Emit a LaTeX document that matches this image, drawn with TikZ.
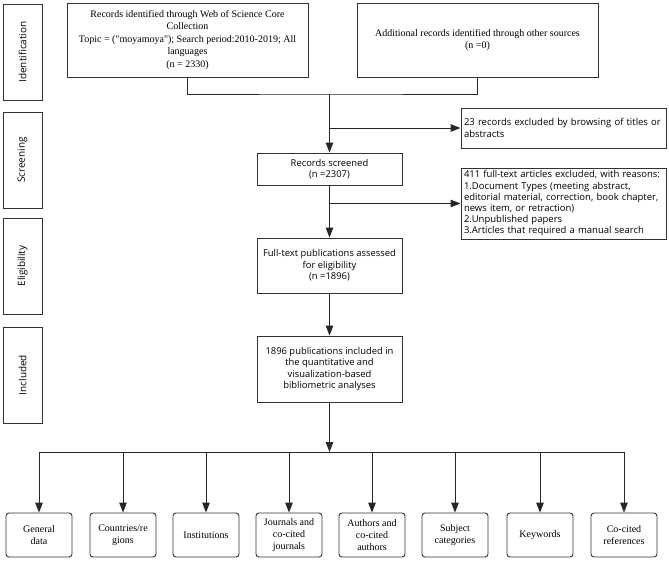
\documentclass[tikz,border=0pt]{standalone}
\usepackage{fontspec}
\setmainfont{Liberation Serif}[Ligatures=TeXOff]
\newfontfamily\uisans{Open Sans}
\usetikzlibrary{arrows.meta}
\begin{document}
\begin{tikzpicture}[x=1pt,y=-1pt,
  box/.style={draw=black!80, line width=0.9pt, inner sep=0pt, align=center},
  serifbox/.style={box, minimum width=241pt, minimum height=74pt, font=\fontsize{10}{12.5}\selectfont},
  midbox/.style={box, minimum width=145pt, font=\uisans\fontsize{9.4}{11.4}\selectfont},
  exbox/.style={box, text width=199pt, inner xsep=3pt, align=left, font=\uisans\fontsize{9.5}{11.2}\selectfont, execute at begin node={\hyphenpenalty=10000\relax}},
  sidebox/.style={box, rotate=90, minimum width=96pt, minimum height=39pt, font=\uisans\fontsize{10}{12}\selectfont},
  leafbox/.style={box, rounded corners=3pt, minimum width=66pt, minimum height=44pt, font=\fontsize{10}{12.3}\selectfont},
  arr/.style={-{Triangle[length=10pt,width=7.5pt]}, line width=1pt, draw=black!85},
  conn/.style={line width=1pt, draw=black!85}
]
\useasboundingbox (0,0) rectangle (669,560);

% phase labels
\node[sidebox] (sid) at (22.5,52) {Identification};
\node[sidebox] (sis) at (22.5,160) {Screening};
\node[sidebox] (sie) at (22.5,266) {Eligibility};
\node[sidebox] (sii) at (22.5,375) {Included};

% top boxes
\node[serifbox] (boxA) at (187.5,40) {Records identified through Web of Science Core\\Collection\\Topic = ("moyamoya"); Search period:2010-2019; All\\languages\\(n = 2330)};
\node[serifbox] (boxB) at (477.5,40) {Additional records identified through other sources\\(n =0)};

% main flow
\node[midbox, minimum height=32pt] (screened) at (329.5,169) {Records screened\\(n =2307)};
\node[midbox, minimum height=55pt] (fulltext) at (329.5,265.5) {Full-text publications assessed\\for eligibility\\(n =1896)};
\node[midbox, minimum height=66pt] (included) at (329.5,369) {1896 publications included in\\the quantitative and\\visualization-based\\bibliometric analyses};

% exclusion boxes
\node[exbox, minimum height=40pt] (ex1) at (563.5,128) {23 records excluded by browsing of titles or\\abstracts};
\node[exbox, minimum height=71pt] (ex2) at (563.5,203.5) {411 full-text articles excluded, with reasons:\\1.Document Types (meeting abstract,\\editorial material, correction, book chapter,\\news item, or retraction)\\2.Unpublished papers\\3.Articles that required a manual search};

% leaf boxes
\node[leafbox] (l1) at (39,535) {General\\data};
\node[leafbox] (l2) at (123,535) {Countries/re\\gions};
\node[leafbox] (l3) at (206,535) {Institutions};
\node[leafbox] (l4) at (289,535) {Journals and\\co-cited\\journals};
\node[leafbox] (l5) at (372,535) {Authors and\\co-cited\\authors};
\node[leafbox] (l6) at (455,535) {Subject\\categories};
\node[leafbox] (l7) at (540,535) {Keywords};
\node[leafbox] (l8) at (624,535) {Co-cited\\references};

% connectors
\coordinate (jm) at (329.5,94);
\coordinate (b1) at (329.5,128);
\coordinate (b2) at (329.5,203.5);
\coordinate (bar) at (329.5,452);
\draw[conn] (boxA.south) |- (jm) -| (boxB.south);
\draw[arr] (jm) -- (screened.north);
\draw[arr] (b1) -- (ex1.west);
\draw[arr] (screened.south) -- (fulltext.north);
\draw[arr] (b2) -- (ex2.west);
\draw[arr] (fulltext.south) -- (included.north);
\draw[arr] (included.south) -- (bar);
\draw[conn] (l1 |- bar) -- (l8 |- bar);
\foreach \n in {l1,l2,l3,l4,l5,l6,l7,l8}
  \draw[arr] (\n |- bar) -- (\n.north);
\end{tikzpicture}
\end{document}
